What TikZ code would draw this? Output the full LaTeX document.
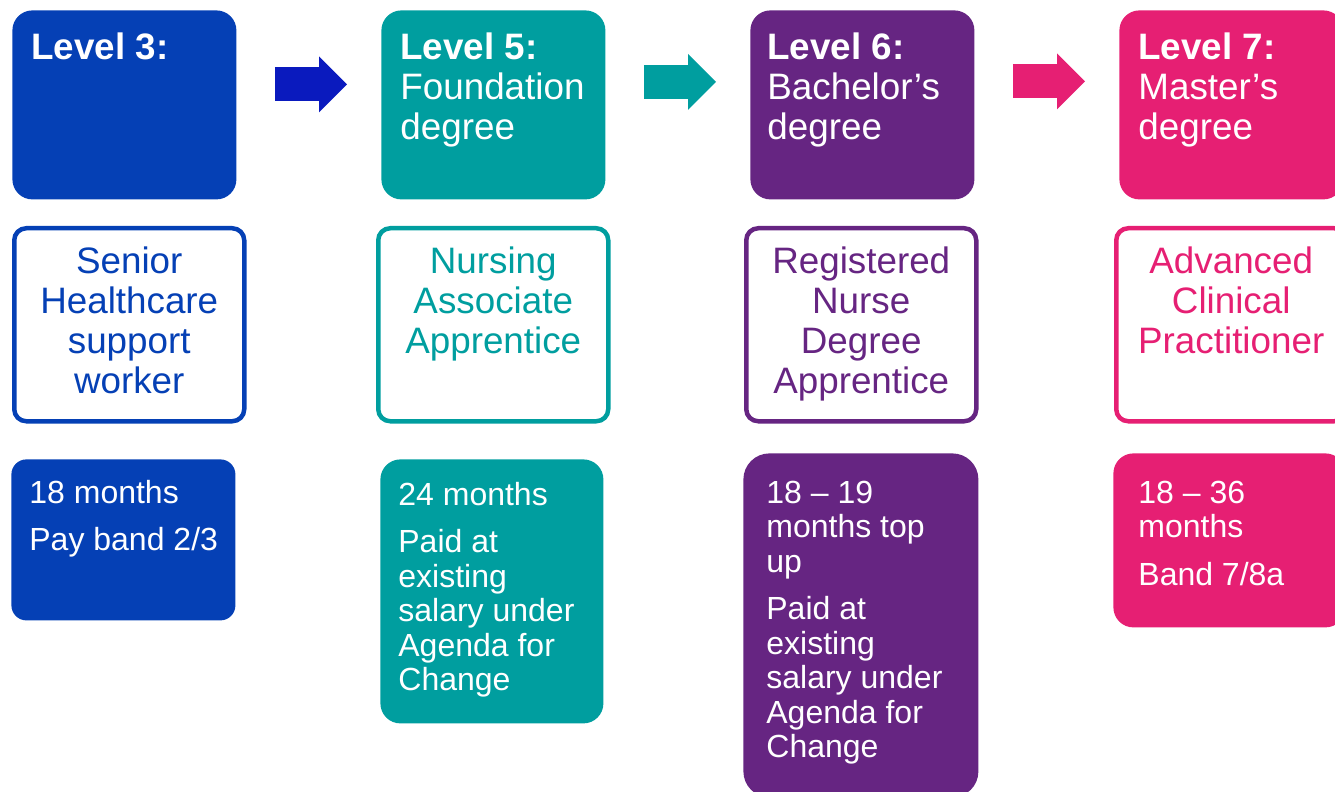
\documentclass[tikz,border=0pt]{standalone}
\usepackage{fontspec}
\setmainfont{Liberation Sans}
\usetikzlibrary{arrows.meta}

\definecolor{lvblue}{HTML}{0540B5}
\definecolor{arblue}{HTML}{0A1ABE}
\definecolor{lvteal}{HTML}{009E9F}
\definecolor{lvpurple}{HTML}{662582}
\definecolor{lvpink}{HTML}{E61F73}

% width, height, left inset, first baseline, text
\newcommand{\lefttext}[5]{\parbox[t][#2][t]{#1}{\raggedright\leftskip=#3\relax\rule{0pt}{#4}#5}}
% width, height, first baseline, text
\newcommand{\midtext}[4]{\parbox[t][#2][t]{#1}{\centering\rule{0pt}{#3}#4}}

\tikzset{
	level/.style={fill=#1,text=white,rounded corners=10pt,anchor=north west,inner sep=0pt,font=\fontsize{18.4}{20}\selectfont},
	role/.style={draw=#1,text=#1,line width=2.25pt,rounded corners=6pt,anchor=north west,inner sep=0pt,font=\fontsize{18.4}{20}\selectfont},
	info/.style={fill=#1,text=white,anchor=north west,inner sep=0pt,font=\fontsize{16}{17.25}\selectfont},
	nextarrow/.style={draw=#1,line width=17pt,-{Triangle[length=14pt,width=28pt,line width=0pt]}}
}

\begin{document}
\begin{tikzpicture}[x=0.5pt,y=-0.5pt]
	\useasboundingbox (0,0) rectangle (1335,792);
	% levels
	\node [level=lvblue] (t3) at (12,10) {\lefttext{112pt}{94.5pt}{9.5pt}{24.5pt}{\textbf{Level 3:}}};
	\node [level=lvteal] (t5) at (381,10) {\lefttext{112pt}{94.5pt}{9.5pt}{24.5pt}{\textbf{Level 5:}\\Foundation\\degree}};
	\node [level=lvpurple] (t6) at (750,10) {\lefttext{112pt}{94.5pt}{8.5pt}{24.5pt}{\textbf{Level 6:}\\Bachelor’s\\degree}};
	\node [level=lvpink] (t7) at (1119,10) {\lefttext{112pt}{94.5pt}{9.5pt}{24.5pt}{\textbf{Level 7:}\\Master’s\\degree}};
	% roles
	\node [role=lvblue] (r3) at (12,226) {\midtext{115pt}{96.5pt}{22.5pt}{Senior\\Healthcare\\support\\worker}};
	\node [role=lvteal] (r5) at (376,226) {\midtext{115pt}{96.5pt}{22.5pt}{Nursing\\Associate\\Apprentice}};
	\node [role=lvpurple] (r6) at (744,226) {\midtext{115pt}{96.5pt}{22.5pt}{Registered\\Nurse\\Degree\\Apprentice}};
	\node [role=lvpink] (r7) at (1114,226) {\midtext{115pt}{96.5pt}{22.5pt}{Advanced\\Clinical\\Practitioner}};
	% duration and pay
	\node [info=lvblue,rounded corners=7.5pt] (i3) at (11,459) {\lefttext{112pt}{80.5pt}{9pt}{22pt}{18 months\\[6.5pt]Pay band 2/3}};
	\node [info=lvteal,rounded corners=10pt] (i5) at (380,459) {\lefttext{111.5pt}{132pt}{9pt}{23pt}{24 months\\[6.5pt]Paid at\\existing\\salary under\\Agenda for\\Change}};
	\node [info=lvpurple,rounded corners=13pt] (i6) at (743,453) {\lefttext{117.5pt}{172pt}{11.5pt}{25pt}{18 – 19\\months top\\up\\[6.5pt]Paid at\\existing\\salary under\\Agenda for\\Change}};
	\node [info=lvpink,rounded corners=10pt] (i7) at (1113,453) {\lefttext{116pt}{87pt}{12.5pt}{25pt}{18 – 36\\months\\[6.5pt]Band 7/8a}};
	% arrows
	\draw [nextarrow=arblue] ([xshift=19pt,yshift=10.25pt]t3.east) -- ([xshift=-17pt,yshift=10.25pt]t5.west);
	\draw [nextarrow=lvteal] ([xshift=19pt,yshift=11.5pt]t5.east) -- ([xshift=-17pt,yshift=11.5pt]t6.west);
	\draw [nextarrow=lvpink] ([xshift=19pt,yshift=11.75pt]t6.east) -- ([xshift=-17pt,yshift=11.75pt]t7.west);
\end{tikzpicture}
\end{document}
